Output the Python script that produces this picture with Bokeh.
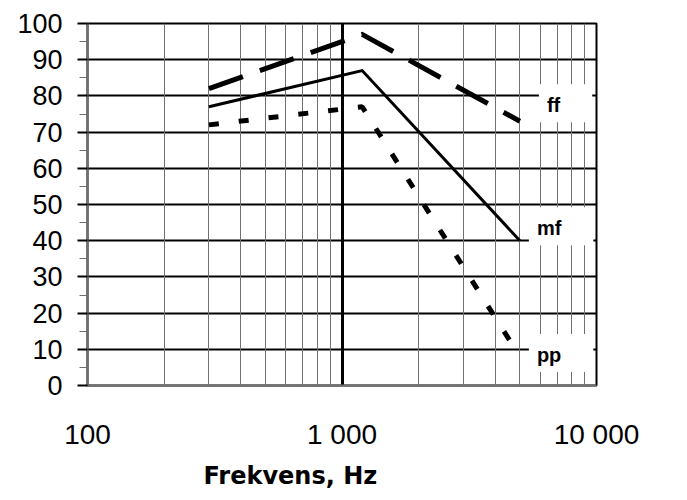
from bokeh.plotting import figure
from bokeh.models import FixedTicker, Grid, Title
from bokeh.embed import file_html
from bokeh.resources import INLINE
from bokeh.core.properties import value

# ---- data ----
freq_ticks = [100, 1000, 10000]
freq_tick_labels = ["100", "1 000", "10 000"]
freq_minor = [200, 300, 400, 500, 600, 700, 800, 900,
              2000, 3000, 4000, 5000, 6000, 7000, 8000, 9000]
level_ticks = [0, 10, 20, 30, 40, 50, 60, 70, 80, 90, 100]
level_minor = [5, 15, 25, 35, 45, 55, 65, 75, 85, 95]

ff_freq = [300, 1200, 5000]
ff_level = [82, 97, 73]
mf_freq = [300, 1200, 5000]
mf_level = [77, 87, 40]
pp_freq = [300, 1200, 5000]
pp_level = [72, 77, 8]

label_text = ["ff", "mf", "pp"]
label_freq = [5000, 5000, 5000]
label_level = [78, 44, 9]

GRAY = "#707070"
label_dx = [19, 9, 9]   # pixel offsets (style only)

p = figure(width=687, height=500, x_axis_type="log",
           x_range=(100, 10000), y_range=(0, 100),
           output_backend="svg", toolbar_location=None,
           min_border_left=87, min_border_right=91,
           min_border_top=23, min_border_bottom=115)
p.outline_line_color = "black"
p.outline_line_width = 2
p.background_fill_color = "white"

# vertical grid lines
p.xgrid.ticker = FixedTicker(ticks=[freq_ticks[1]])
p.xgrid.grid_line_color = "black"
p.xgrid.grid_line_width = 3
p.add_layout(Grid(dimension=0, ticker=FixedTicker(ticks=freq_minor),
                  grid_line_color=GRAY, grid_line_width=1))

# horizontal grid lines
p.ygrid.ticker = FixedTicker(ticks=level_ticks[1:])
p.ygrid.grid_line_color = "black"
p.ygrid.grid_line_width = 2

# x axis
p.xaxis.ticker = FixedTicker(ticks=freq_ticks)
p.xaxis.major_label_overrides = {t: s for t, s in zip(freq_ticks, freq_tick_labels)}
p.xaxis.major_tick_line_color = None
p.xaxis.minor_tick_line_color = None
p.xaxis.axis_line_color = GRAY
p.xaxis.axis_line_width = 2
p.xaxis.major_label_text_font = "Liberation Sans"
p.xaxis.major_label_text_font_size = "28px"
p.xaxis.major_label_text_color = "black"
p.xaxis.major_label_standoff = 27

# y axis
p.yaxis.ticker = FixedTicker(ticks=level_ticks, minor_ticks=level_minor)
p.yaxis.axis_line_color = GRAY
p.yaxis.axis_line_width = 2
p.yaxis.major_tick_line_color = "black"
p.yaxis.major_tick_line_width = 2
p.yaxis.major_tick_out = 10
p.yaxis.major_tick_in = 0
p.yaxis.minor_tick_line_color = GRAY
p.yaxis.minor_tick_out = 8
p.yaxis.minor_tick_in = 0
p.yaxis.major_label_text_font = "Liberation Sans"
p.yaxis.major_label_text_font_size = "27px"
p.yaxis.major_label_text_color = "black"
p.yaxis.major_label_standoff = 15

# series
p.line(ff_freq, ff_level, line_color="black", line_width=5,
       line_dash="36 18", line_cap="butt", line_join="miter")
p.line(mf_freq, mf_level, line_color="black", line_width=3, line_join="miter")
p.line(pp_freq, pp_level, line_color="black", line_width=5,
       line_dash="10 20", line_cap="butt")

p.text(x=label_freq, y=label_level, text=label_text, x_offset=label_dx,
       text_font=value("Liberation Sans"), text_font_style="bold",
       text_font_size="20px", text_align="left", text_baseline="middle",
       text_color="black",
       background_fill_color="white",
       padding=dict(left=8, right=32, top=10, bottom=6))

title = Title(text="Frekvens, Hz", align="left", offset=116,
              text_font="DejaVu Sans", text_font_style="bold",
              text_font_size="24px", text_color="black", standoff=14)
p.add_layout(title, "below")

open("out.html", "w").write(file_html(p, INLINE))
